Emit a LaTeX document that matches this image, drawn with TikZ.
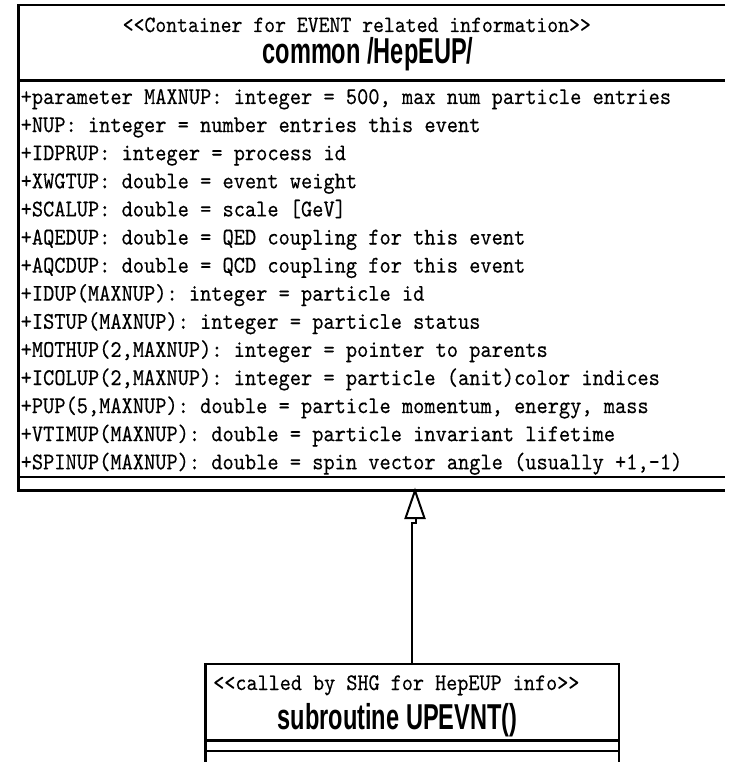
\documentclass[tikz,border=0pt]{standalone}
\usepackage{fontspec}
\newfontfamily\titlefont[FakeStretch=0.655]{Liberation Sans}
\newfontfamily\monofont[FakeStretch=0.89,FakeBold=0.3]{lmmono10-regular.otf}
\newcommand{\dlt}{<\kern0pt<}
\newcommand{\dgt}{>\kern0pt>}
\begin{document}
\begin{tikzpicture}[x=1pt,y=-1pt,
  boxline/.style={line width=2.6pt, line join=miter},
  connector/.style={line width=2pt, line join=miter},
  gentip/.style={line width=2pt, line join=miter, fill=white},
  attr/.style={inner sep=0pt, anchor=base west, font=\fontsize{24}{28}\selectfont\monofont},
  stereo/.style={inner sep=0pt, anchor=base west, font=\fontsize{#1}{28}\selectfont\monofont},
  cname/.style={inner sep=0pt, anchor=base, font=\fontsize{36}{40}\selectfont\titlefont\bfseries}]
\useasboundingbox (0,0) rectangle (729,762);
\clip (0,0) rectangle (729,762);

% class common /HepEUP/ : outline and compartments
\draw[boxline] (725,5) -- (18.5,5) -- (18.5,490.7) -- (725,490.7);
\draw[boxline] (18.5,80.7) -- (725,80.7);
\draw[boxline] (18.5,477) -- (725,477);
\coordinate (hepeup-bottom) at (415,490.7);

\node[stereo=23.3] (hepeup-stereo) at (122.5,32) {\dlt Container for EVENT related information\dgt};
\node[cname] (hepeup-name) at (368,64) {common /HepEUP/};

% attributes
\node[attr] (a1)  at (20.5,104.0) {+parameter MAXNUP: integer = 500, max num particle entries};
\node[attr] (a2)  at (20.5,132.1) {+NUP: integer = number entries this event};
\node[attr] (a3)  at (20.5,160.2) {+IDPRUP: integer = process id};
\node[attr] (a4)  at (20.5,188.3) {+XWGTUP: double = event weight};
\node[attr] (a5)  at (20.5,216.4) {+SCALUP: double = scale [GeV]};
\node[attr] (a6)  at (20.5,244.5) {+AQEDUP: double = QED coupling for this event};
\node[attr] (a7)  at (20.5,272.6) {+AQCDUP: double = QCD coupling for this event};
\node[attr] (a8)  at (20.5,300.7) {+IDUP(MAXNUP): integer = particle id};
\node[attr] (a9)  at (20.5,328.8) {+ISTUP(MAXNUP): integer = particle status};
\node[attr] (a10) at (20.5,356.9) {+MOTHUP(2,MAXNUP): integer = pointer to parents};
\node[attr] (a11) at (20.5,385.0) {+ICOLUP(2,MAXNUP): integer = particle (anit)color indices};
\node[attr] (a12) at (20.5,413.1) {+PUP(5,MAXNUP): double = particle momentum, energy, mass};
\node[attr] (a13) at (20.5,441.2) {+VTIMUP(MAXNUP): double = particle invariant lifetime};
\node[attr] (a14) at (20.5,469.3) {+SPINUP(MAXNUP): double = spin vector angle (usually +1,-1)};

% class subroutine UPEVNT()
\draw[boxline] (205.7,763) -- (205.7,664) -- (619,664) -- (619,763);
\draw[boxline] (205.7,740.7) -- (619,740.7);
\draw[boxline] (205.7,751) -- (619,751);
\coordinate (upevnt-top) at (412,664);

\node[stereo=23.75] (upevnt-stereo) at (213,690) {\dlt called by SHG for HepEUP info\dgt};
\node[cname] (upevnt-name) at (397.5,729) {subroutine UPEVNT()};

% generalization: subroutine UPEVNT() -> common /HepEUP/
\draw[connector] (upevnt-top) -- ++(0,-141) -- ++(4,0) -- ++(0,-5);
\draw[gentip] (hepeup-bottom) -- ++(-9.5,27.5) -- ++(19,0) -- cycle;
\end{tikzpicture}
\end{document}
